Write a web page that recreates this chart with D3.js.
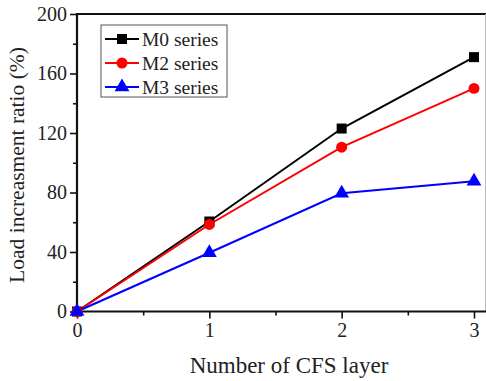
<!DOCTYPE html>
<html><head><meta charset="utf-8">
<script src="https://cdn.jsdelivr.net/npm/d3@7"></script>
<style>
html,body{margin:0;padding:0;background:#fff;}
svg text{font-family:"Liberation Serif","Times New Roman",serif !important;fill:#222;}
</style></head>
<body><svg id="c" width="486" height="381"></svg>
<script>
const layers = [0, 1, 2, 3];
const seriesNames = ["M0 series", "M2 series", "M3 series"];
const m0 = [0, 60.5, 123, 171];
const m2 = [0, 58.5, 110.5, 150];
const m3 = [0, 39.5, 79.5, 87.5];
const yTicks = [0, 40, 80, 120, 160, 200];
const xTicks = [0, 1, 2, 3];
const xLabel = "Number of CFS layer";
const yLabel = "Load increasment ratio (%)";

const colors = ["#000000", "#ff0000", "#0000ff"];
const shapes = [d3.symbolSquare, d3.symbolCircle, d3.symbolTriangle];
const symSizes = [100, 95, 95];
const allSeries = [m0, m2, m3];

const svg = d3.select("#c");
const L = 77, R = 474, T = 14, B = 311.5;
const x = d3.scaleLinear().domain([0, 3]).range([L, R]);
const y = d3.scaleLinear().domain([0, 200]).range([B, T]);

// frame top & right
svg.append("line").attr("x1", L).attr("x2", 487).attr("y1", T).attr("y2", T)
  .attr("stroke", "#111").attr("stroke-width", 2);
svg.append("line").attr("x1", 485.5).attr("x2", 485.5).attr("y1", T).attr("y2", B)
  .attr("stroke", "#bbb").attr("stroke-width", 1);

// minor ticks
const gx = svg.append("g").attr("transform", `translate(0,${B})`);
gx.call(d3.axisBottom(x).tickValues([0.5, 1.5, 2.5]).tickSize(4).tickFormat(""));
const gy = svg.append("g").attr("transform", `translate(${L},0)`);
gy.call(d3.axisLeft(y).tickValues([20, 60, 100, 140, 180]).tickSize(4).tickFormat(""));

// major axes
const ax = svg.append("g").attr("transform", `translate(0,${B})`)
  .call(d3.axisBottom(x).tickValues(xTicks).tickSize(7).tickPadding(4).tickFormat(d3.format("d")));
const ay = svg.append("g").attr("transform", `translate(${L},0)`)
  .call(d3.axisLeft(y).tickValues(yTicks).tickSize(7).tickPadding(3).tickFormat(d3.format("d")));

svg.selectAll(".domain").remove();
svg.selectAll("g").attr("font-family", null);
svg.selectAll(".tick line").attr("stroke", "#111").attr("stroke-width", 1.6);
svg.selectAll(".tick text").attr("font-size", 20).attr("fill", "#222");
ax.selectAll(".tick text").attr("dy", "0.72em");

// axis lines
svg.append("line").attr("x1", L - 1).attr("x2", 487).attr("y1", B).attr("y2", B)
  .attr("stroke", "#111").attr("stroke-width", 2.2);
svg.append("line").attr("x1", L).attr("x2", L).attr("y1", T - 1).attr("y2", B + 1)
  .attr("stroke", "#111").attr("stroke-width", 2.2);

// lines and markers
const line = d3.line().x((d, i) => x(layers[i])).y(d => y(d));
allSeries.forEach((s, k) => {
  svg.append("path").datum(s).attr("d", line).attr("fill", "none")
    .attr("stroke", colors[k]).attr("stroke-width", 2);
});
allSeries.forEach((s, k) => {
  svg.append("g").selectAll("path").data(s).join("path")
    .attr("transform", (d, i) => `translate(${x(layers[i])},${y(d)})`)
    .attr("d", d3.symbol().type(shapes[k]).size(symSizes[k]))
    .attr("fill", colors[k]);
});

// legend
const lg = svg.append("g");
lg.append("rect").attr("x", 101).attr("y", 25).attr("width", 126).attr("height", 72)
  .attr("fill", "#fff").attr("stroke", "#555").attr("stroke-width", 1);
seriesNames.forEach((n, k) => {
  const cy = 39 + k * 24;
  lg.append("line").attr("x1", 105).attr("x2", 139).attr("y1", cy).attr("y2", cy)
    .attr("stroke", colors[k]).attr("stroke-width", 2);
  lg.append("path").attr("transform", `translate(122,${cy})`)
    .attr("d", d3.symbol().type(shapes[k]).size(symSizes[k])).attr("fill", colors[k]);
  lg.append("text").attr("x", 142).attr("y", cy).attr("dy", "0.35em")
    .attr("font-size", 19.5).text(n);
});

// axis labels
svg.append("text").attr("x", 289).attr("y", 373).attr("text-anchor", "middle")
  .attr("font-size", 23).text(xLabel);
svg.append("text").attr("transform", "translate(24,165) rotate(-90)")
  .attr("text-anchor", "middle").attr("font-size", 21.5).text(yLabel);
</script></body></html>
